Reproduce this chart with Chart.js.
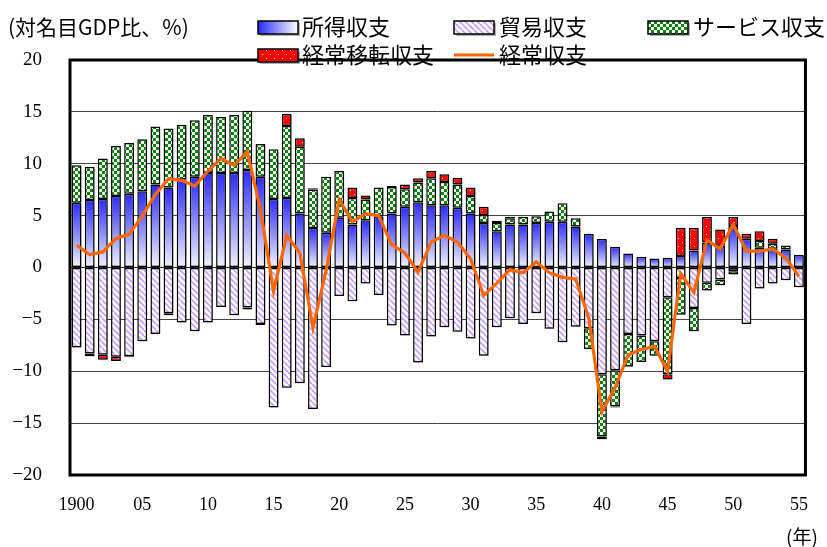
<!DOCTYPE html>
<html>
<head>
<meta charset="utf-8">
<script src="https://cdn.jsdelivr.net/npm/chart.js@4.4.1/dist/chart.umd.min.js"></script>
<style>
  body { margin: 0; background: #fff; }
  canvas { display: block; }
</style>
</head>
<body>
<canvas id="myChart" width="827" height="547"></canvas>
<script>
const years = [1900, 1901, 1902, 1903, 1904, 1905, 1906, 1907, 1908, 1909,
  1910, 1911, 1912, 1913, 1914, 1915, 1916, 1917, 1918, 1919,
  1920, 1921, 1922, 1923, 1924, 1925, 1926, 1927, 1928, 1929,
  1930, 1931, 1932, 1933, 1934, 1935, 1936, 1937, 1938, 1939,
  1940, 1941, 1942, 1943, 1944, 1945, 1946, 1947, 1948, 1949,
  1950, 1951, 1952, 1953, 1954, 1955];

const tickYears = [1900, 1905, 1910, 1915, 1920, 1925, 1930, 1935, 1940, 1945, 1950, 1955];
const tickNames = ["1900", "05", "10", "15", "20", "25", "30", "35", "40", "45", "50", "55"];

// 所得収支
const income = [6.25, 6.5, 6.6, 6.9, 7.1, 7.35, 8.0, 7.7, 8.5, 8.75,
  9.1, 9.1, 9.1, 9.4, 8.75, 6.6, 6.7, 5.2, 3.8, 3.35,
  4.8, 4.15, 4.55, 4.95, 5.2, 5.85, 6.3, 6.0, 6.0, 5.75,
  5.2, 4.3, 3.5, 4.15, 4.15, 4.3, 4.4, 4.4, 3.95, 3.25,
  2.75, 2.0, 1.35, 1.03, 0.87, 0.93, 1.1, 1.64, 2.4, 2.1,
  4.0, 2.77, 1.9, 1.8, 1.74, 1.2];

// 貿易収支
const trade = [-7.7, -8.3, -8.4, -8.6, -8.55, -7.1, -6.4, -4.4, -5.3, -6.15,
  -5.3, -3.8, -4.6, -3.85, -5.45, -13.5, -11.6, -11.15, -13.65, -9.6,
  -2.75, -3.25, -1.55, -2.65, -5.6, -6.55, -9.15, -6.65, -5.75, -6.2,
  -6.85, -8.5, -5.75, -4.9, -5.45, -4.4, -5.9, -7.2, -5.7, -5.85,
  -10.3, -9.9, -6.4, -6.55, -7.1, -2.87, -1.0, -3.9, -1.48, -1.16,
  -0.35, -5.45, -2.03, -1.55, -1.22, -1.9];

// サービス収支
const services = [3.6, 3.2, 3.9, 4.8, 4.9, 5.0, 5.6, 5.7, 5.25, 5.45,
  5.6, 5.4, 5.6, 5.7, 3.15, 4.8, 6.95, 6.45, 3.7, 5.4,
  4.5, 2.55, 2.0, 2.75, 2.55, 1.7, 1.9, 2.6, 2.25, 2.25,
  1.7, 0.75, 0.8, 0.6, 0.75, 0.65, 1.0, 1.8, 0.8, -2.0,
  -6.0, -3.5, -3.15, -2.55, -1.4, -7.43, -3.55, -2.25, -0.74, -0.55,
  -0.33, null, 0.65, 0.5, 0.38, null];

// 経常移転収支
const transfers = [null, -0.25, -0.5, -0.4, -0.1, null, null, -0.2, null, null,
  null, null, null, -0.2, -0.1, null, 1.15, 0.8, 0.15, null,
  null, 1.0, 0.4, null, 0.1, 0.45, 0.4, 0.7, 0.73, 0.65,
  0.8, 0.8, 0.2, 0.15, null, null, null, null, null, null,
  -0.25, -0.1, -0.05, null, null, -0.5, 2.73, 2.19, 2.47, 1.57,
  0.87, 0.48, 0.95, 0.47, null, null];

// 経常収支
const current = [2.15, 1.25, 1.5, 2.8, 3.2, 4.95, 7.05, 8.55, 8.4, 7.85,
  9.3, 10.5, 9.85, 11.15, 5.6, -2.3, 3.1, 1.4, -5.8, -0.3,
  6.55, 4.4, 5.2, 5.0, 2.2, 1.4, -0.45, 2.45, 3.1, 2.45,
  0.84, -2.7, -1.5, -0.2, -0.5, 0.55, -0.5, -0.95, -1.1, -4.85,
  -13.9, -11.6, -8.4, -7.9, -7.6, -10.0, -0.58, -2.4, 2.65, 1.8,
  4.15, 1.58, 1.58, 1.8, 0.93, -0.84];

const serif = '"Liberation Serif", "DejaVu Serif", serif';
const jpFont = '"Noto Sans CJK JP", sans-serif';

function makeTile(w, h, draw) {
  const c = document.createElement("canvas");
  c.width = w;
  c.height = h;
  draw(c.getContext("2d"));
  return document.createElement("canvas").getContext("2d").createPattern(c, "repeat");
}

// lavender diagonal hatch
const hatch = makeTile(6, 6, (g) => {
  g.fillStyle = "#fff";
  g.fillRect(0, 0, 6, 6);
  g.strokeStyle = "#c4a0f5";
  g.lineWidth = 1.7;
  for (const k of [-6, 0, 6]) {
    g.beginPath();
    g.moveTo(k, 0);
    g.lineTo(k + 6, 6);
    g.stroke();
  }
});

// green checker
const checker = makeTile(6, 6, (g) => {
  g.fillStyle = "#008000";
  g.fillRect(0, 0, 6, 6);
  g.fillStyle = "#fff";
  g.fillRect(0, 0, 3, 3);
  g.fillRect(3, 3, 3, 3);
});

// red with sparse white dots
const dots = makeTile(8, 8, (g) => {
  g.fillStyle = "#ff0000";
  g.fillRect(0, 0, 8, 8);
  g.fillStyle = "#ffd6d6";
  g.fillRect(2, 2, 1, 1);
  g.fillRect(6, 6, 1, 1);
});

function incomeFill(ctx) {
  const chart = ctx.chart;
  const y = chart.scales.y;
  if (!y || ctx.raw == null || !chart.chartArea) return "#6f6fff";
  const top = y.getPixelForValue(ctx.raw);
  const base = y.getPixelForValue(0);
  if (Math.abs(top - base) < 1) return "#6f6fff";
  const g = chart.ctx.createLinearGradient(0, top, 0, base);
  g.addColorStop(0, "#2a2aff");
  g.addColorStop(1, "#f3f3ff");
  return g;
}

const shadowPlugin = {
  id: "barShadow",
  beforeDatasetDraw(chart, args) {
    if (args.meta.type !== "bar") return;
    const c = chart.ctx;
    c.save();
    c.shadowColor = "rgba(0,0,0,0.25)";
    c.shadowOffsetX = 2;
    c.shadowOffsetY = 2;
    c.shadowBlur = 1;
  },
  afterDatasetDraw(chart, args) {
    if (args.meta.type === "bar") chart.ctx.restore();
  },
};

function swatch(c, x, y, w, h, fill) {
  c.save();
  c.shadowColor = "rgba(0,0,0,0.3)";
  c.shadowOffsetX = 2;
  c.shadowOffsetY = 2;
  c.fillStyle = fill;
  c.fillRect(x, y, w, h);
  c.restore();
  c.strokeStyle = "#000";
  c.lineWidth = 1.5;
  c.strokeRect(x, y, w, h);
}

const decorPlugin = {
  id: "decor",
  afterDatasetsDraw(chart) {
    const c = chart.ctx;
    const a = chart.chartArea;
    c.save();
    c.strokeStyle = "#000";
    c.lineWidth = 3;
    c.strokeRect(a.left, a.top, a.right - a.left, a.bottom - a.top);
    c.restore();
  },
  afterDraw(chart) {
    const c = chart.ctx;
    c.save();
    c.fillStyle = "#000";
    c.textBaseline = "middle";
    c.textAlign = "left";
    c.font = "21px " + jpFont;
    c.fillText("(対名目GDP比、%)", 8, 27);

    c.font = "22px " + jpFont;
    const sw = 40, sh = 13;

    const grad = c.createLinearGradient(258, 0, 258 + sw, 0);
    grad.addColorStop(0, "#2a2aff");
    grad.addColorStop(1, "#ffffff");
    swatch(c, 258, 21, sw, sh, grad);
    c.fillStyle = "#000";
    c.fillText("所得収支", 302, 27);

    swatch(c, 454, 21, sw, sh, hatch);
    c.fillStyle = "#000";
    c.fillText("貿易収支", 499, 27);

    swatch(c, 648, 21, sw, sh, checker);
    c.fillStyle = "#000";
    c.fillText("サービス収支", 693, 27);

    swatch(c, 258, 49, sw, sh, dots);
    c.fillStyle = "#000";
    c.fillText("経常移転収支", 302, 55);

    c.strokeStyle = "#ff6600";
    c.lineWidth = 3;
    c.beginPath();
    c.moveTo(454, 55);
    c.lineTo(494, 55);
    c.stroke();
    c.fillText("経常収支", 499, 55);

    c.font = "19px " + jpFont;
    c.fillText("(年)", 786, 537);
    c.restore();
  },
};

const ctx = document.getElementById("myChart").getContext("2d");
const mainChart = new Chart(ctx, {
  data: {
    labels: years,
    datasets: [
      {
        type: "line",
        label: "経常収支",
        data: current,
        stack: "cur",
        borderColor: "#ff6600",
        borderWidth: 3.2,
        pointRadius: 0,
        tension: 0,
        order: 0,
      },
      {
        type: "bar",
        label: "所得収支",
        data: income,
        stack: "bal",
        backgroundColor: incomeFill,
        borderColor: "#000",
        borderWidth: 1.5,
        borderSkipped: false,
        order: 1,
      },
      {
        type: "bar",
        label: "貿易収支",
        data: trade,
        stack: "bal",
        backgroundColor: hatch,
        borderColor: "#000",
        borderWidth: 1.5,
        borderSkipped: false,
        order: 1,
      },
      {
        type: "bar",
        label: "サービス収支",
        data: services,
        stack: "bal",
        backgroundColor: checker,
        borderColor: "#000",
        borderWidth: 1.5,
        borderSkipped: false,
        order: 1,
      },
      {
        type: "bar",
        label: "経常移転収支",
        data: transfers,
        stack: "bal",
        backgroundColor: dots,
        borderColor: "#000",
        borderWidth: 1.5,
        borderSkipped: false,
        order: 1,
      },
    ],
  },
  options: {
    responsive: false,
    animation: false,
    devicePixelRatio: 1,
    layout: { padding: { top: 60, right: 11, bottom: 0, left: 0 } },
    datasets: {
      bar: { barPercentage: 0.75, categoryPercentage: 1.0 },
    },
    plugins: {
      legend: { display: false },
      tooltip: { enabled: false },
    },
    scales: {
      x: {
        stacked: true,
        grid: { display: false, drawTicks: false },
        border: { display: false },
        ticks: {
          autoSkip: false,
          maxRotation: 0,
          minRotation: 0,
          padding: 19,
          color: "#000",
          font: { family: serif, size: 18 },
          callback: (value, index) => {
            const i = tickYears.indexOf(years[index]);
            return i >= 0 ? tickNames[i] : "";
          },
        },
        afterFit: (s) => {
          s.height = 72;
        },
      },
      y: {
        stacked: true,
        min: -20,
        max: 20,
        ticks: {
          stepSize: 5,
          padding: 28,
          color: "#000",
          font: { family: serif, size: 19 },
          callback: (v) => (v < 0 ? "\u2212" + -v : "" + v),
        },
        grid: {
          drawTicks: false,
          lineWidth: 1,
          color: (c) => (c.tick && c.tick.value === 0 ? "#222" : "#444"),
        },
        border: { display: false },
        afterFit: (s) => {
          s.width = 70;
        },
      },
    },
  },
  plugins: [shadowPlugin, decorPlugin],
});
</script>
</body>
</html>
